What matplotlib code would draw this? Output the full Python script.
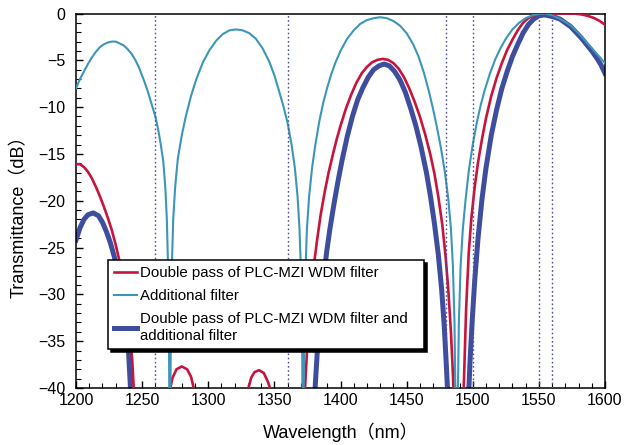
import matplotlib
matplotlib.use("Agg")
import matplotlib.pyplot as plt

plt.rcParams['font.family'] = ['Liberation Sans', 'Noto Sans CJK JP', 'DejaVu Sans']

# double pass of PLC-MZI WDM filter (values below -40 only steer the line out of the frame)
wl_red = [1200, 1203, 1206, 1209, 1212, 1215, 1218, 1221, 1224, 1227, 1230, 1233, 1236, 1239,
          1241, 1242.5, 1244, 1246, 1256, 1266, 1269.5,
          1271, 1273, 1276, 1280, 1284, 1287, 1289, 1290.5, 1294, 1310, 1325, 1328.5,
          1330, 1332.5, 1335, 1338.4, 1342, 1345, 1347.2, 1349, 1352, 1362, 1370, 1372,
          1373.2, 1374.5, 1376, 1378, 1380, 1382, 1385, 1388, 1391, 1394, 1397, 1400,
          1404, 1408, 1412, 1416, 1420, 1424, 1428, 1432, 1436, 1440, 1444, 1448, 1452,
          1456, 1460, 1464, 1468, 1471, 1474, 1477, 1479.5, 1481.5, 1483.5, 1485, 1486,
          1487.5, 1489.5, 1491.5, 1492.7, 1493.5, 1495, 1497, 1499, 1501.5, 1504, 1507,
          1510, 1514, 1518, 1522, 1526, 1530, 1534, 1538, 1542, 1546, 1550, 1555, 1560,
          1565, 1570, 1575, 1580, 1584, 1588, 1592, 1596, 1600]
db_red = [-16.1, -16.1, -16.4, -16.9, -17.6, -18.5, -19.5, -20.6, -21.8, -23.1, -24.7, -26.5,
          -28.8, -31.8, -34.3, -37, -41, -47, -60, -47, -42,
          -40.2, -38.9, -38.0, -37.7, -38.0, -38.8, -40.0, -42, -47, -60, -47, -42,
          -40.2, -38.9, -38.3, -38.1, -38.4, -39.3, -40.2, -42, -47, -60, -47, -42,
          -40, -36.5, -33, -29.5, -26.8, -24.5, -21.5, -19.1, -17.0, -15.2, -13.5, -12.0,
          -10.2, -8.7, -7.4, -6.4, -5.7, -5.2, -4.95, -4.85, -4.95, -5.3, -5.9, -6.8, -8.0,
          -9.4, -11.0, -12.9, -15.1, -17.1, -19.6, -22.6, -26, -29.5, -34, -38.5, -42,
          -50, -60, -50, -42, -38.5, -31.5, -25.5, -21.8, -18.5, -15.9, -13.4,
          -11.2, -8.8, -6.9, -5.3, -3.9, -2.8, -1.8, -1.0, -0.5, -0.2, -0.05, 0.0, 0.0,
          0.0, 0.0, 0.0, -0.05, -0.15, -0.3, -0.5, -0.8, -1.2]

# additional filter
wl_teal = [1200, 1203, 1206, 1209, 1212, 1215, 1218, 1221, 1224, 1227, 1230, 1233, 1236, 1239,
           1242, 1245, 1248, 1251, 1254, 1257, 1260, 1262, 1264, 1266, 1267.5, 1268.7, 1269.6,
           1270.2, 1270.6, 1270.9, 1271.3, 1271.8, 1272.5, 1273.5, 1275, 1277, 1280, 1283,
           1287, 1291, 1296, 1301, 1306, 1311, 1316, 1321, 1326, 1331, 1336, 1341, 1346,
           1350, 1354, 1357, 1360, 1363, 1365.5, 1367.5, 1369, 1370.2, 1370.9, 1371.3,
           1371.7, 1372.1, 1372.6, 1373.4, 1374.6, 1376.3, 1378.5, 1381, 1384, 1387, 1390,
           1393, 1396, 1400, 1405, 1410, 1415, 1420, 1425, 1430, 1435, 1440, 1445, 1450,
           1455, 1459, 1463, 1467, 1470, 1473, 1476, 1479, 1481.5, 1483.5, 1485, 1486.2,
           1487, 1487.8, 1488.6, 1489.5, 1490.8, 1492.5, 1494.5, 1497, 1500, 1503, 1506,
           1509, 1513, 1517, 1521, 1525, 1530, 1535, 1540, 1545, 1550, 1555, 1560, 1565,
           1570, 1575, 1580, 1585, 1590, 1595, 1600]
db_teal = [-8.0, -7.0, -6.2, -5.4, -4.7, -4.1, -3.6, -3.3, -3.1, -3.0, -3.0, -3.2, -3.4, -3.8,
           -4.3, -5.0, -5.9, -7.0, -8.2, -9.6, -11.0, -12.3, -13.9, -15.8, -18.5, -22, -27,
           -33, -42, -60, -42, -33, -27, -22, -18.5, -15.5, -13.0, -11.0,
           -8.8, -7.0, -5.2, -3.9, -2.9, -2.2, -1.8, -1.7, -1.8, -2.1, -2.7, -3.7, -5.1,
           -6.6, -8.5, -10.0, -11.7, -14.0, -16.5, -19.5, -23, -28, -33, -42,
           -60, -42, -33, -28, -23, -19.5, -16.5, -14.0, -11.5, -9.5, -7.9,
           -6.5, -5.3, -4.0, -2.7, -1.8, -1.1, -0.7, -0.5, -0.4, -0.5, -0.8, -1.3, -2.1,
           -3.3, -4.6, -6.3, -8.4, -10.2, -12.2, -14.4, -17.0, -19.8, -23, -27, -33,
           -42, -60, -42, -33, -27, -23, -20, -16.8, -14.0, -11.7, -9.8,
           -8.2, -6.4, -4.9, -3.7, -2.7, -1.7, -1.0, -0.5, -0.2, -0.05, 0.0, -0.2, -0.5,
           -0.9, -1.4, -2.1, -2.9, -3.7, -4.5, -5.3]

# double pass of PLC-MZI WDM filter and additional filter
wl_blue = [1200, 1203, 1206, 1209, 1213, 1217, 1220, 1223, 1226, 1229, 1232, 1235, 1237.5,
           1239.5, 1241, 1242.5, 1245, 1260, 1320, 1365, 1377, 1379.5, 1381, 1382.5, 1384.5,
           1387, 1389.5, 1392, 1395, 1398, 1401, 1405, 1409, 1413, 1417, 1421, 1425, 1429,
           1433, 1437, 1441, 1445, 1449, 1453, 1457, 1461, 1465, 1468, 1471, 1474, 1476.5,
           1478.5, 1480, 1481.2, 1483, 1489, 1495, 1496.8, 1498, 1499.5, 1501.5, 1504, 1507,
           1510, 1514, 1518, 1522, 1526, 1530, 1534, 1538, 1542, 1546, 1550, 1554, 1558,
           1562, 1566, 1570, 1574, 1578, 1582, 1586, 1590, 1594, 1597, 1600]
db_blue = [-24.2, -22.9, -22.0, -21.5, -21.3, -21.6, -22.3, -23.3, -24.5, -26.0, -27.7, -29.8,
           -32.2, -35.5, -39.5, -44, -50, -65, -75, -65, -50, -44, -39.5, -36, -32.5,
           -28.6, -25.5, -23, -20.4, -18.0, -15.8, -13.2, -11.0, -9.2, -7.9, -6.8, -6.0, -5.6,
           -5.4, -5.6, -6.2, -7.1, -8.4, -10.1, -12.0, -14.3, -17.0, -19.5, -22.4, -25.8, -29.5,
           -33.5, -37.5, -41, -48, -60, -48, -41, -37, -33, -28.5, -24.0, -19.8,
           -16.5, -13.0, -10.3, -8.0, -6.2, -4.6, -3.3, -2.1, -1.2, -0.6, -0.25, -0.15, -0.25,
           -0.4, -0.6, -1.0, -1.4, -2.0, -2.6, -3.3, -4.0, -4.8, -5.5, -6.4]

channels = [1260, 1360, 1480, 1500, 1550, 1560]

labels = ['Double pass of PLC-MZI WDM filter', 'Additional filter',
          'Double pass of PLC-MZI WDM filter and\nadditional filter']

fig = plt.figure(figsize=(6.27, 4.45), dpi=100)
ax = fig.add_axes([76/627, 57/445, 529/627, 374.5/445])

l_red, = ax.plot(wl_red, db_red, color='#c8143c', lw=1.9, zorder=3)
l_teal, = ax.plot(wl_teal, db_teal, color='#3b96b8', lw=1.5, zorder=4)
l_blue, = ax.plot(wl_blue, db_blue, color='#3f4d9e', lw=3.6, zorder=2)

for c in channels:
    ax.axvline(c, color='#4f4fa0', lw=1.0, linestyle=(0, (1.2, 1.8)), zorder=5)

ax.set_xlim(1200, 1600)
ax.set_ylim(-40, 0)
ax.set_xticks(range(1200, 1601, 50))
ax.set_xticks(range(1200, 1601, 10), minor=True)
ax.set_yticks(range(-40, 1, 5))
ax.set_yticks(range(-40, 1, 1), minor=True)
ax.tick_params(which='both', direction='in', top=False, right=False, labelsize=11.5)
ax.tick_params(which='major', length=5, width=1)
ax.tick_params(which='minor', length=3.5, width=0.8)
ax.tick_params(axis='y', pad=7.5)
ax.tick_params(axis='x', pad=3.5)
for s in ax.spines.values():
    s.set_linewidth(1.1)

ax.set_xlabel('Wavelength（nm）', fontsize=13)
ax.set_ylabel('Transmittance（dB）', fontsize=13)
ax.xaxis.set_label_coords(0.5, -0.093)
ax.yaxis.set_label_coords(-0.09, 0.47)

leg = ax.legend([l_red, l_teal, l_blue], labels, loc='upper left',
                bbox_to_anchor=(108/627, 96/445, 316/627, 89/445), bbox_transform=fig.transFigure,
                mode='expand', borderaxespad=0, fontsize=10.8, handlelength=1.5,
                handletextpad=0.2, labelspacing=0.6, borderpad=0.4, fancybox=False,
                framealpha=1, edgecolor='black',
                shadow={'color': 'black', 'alpha': 1})
leg.get_frame().set_linewidth(1.1)
for t in leg.get_texts():
    t.set_linespacing(1.3)
leg.set_zorder(10)

plt.savefig('out.png', dpi=100)
